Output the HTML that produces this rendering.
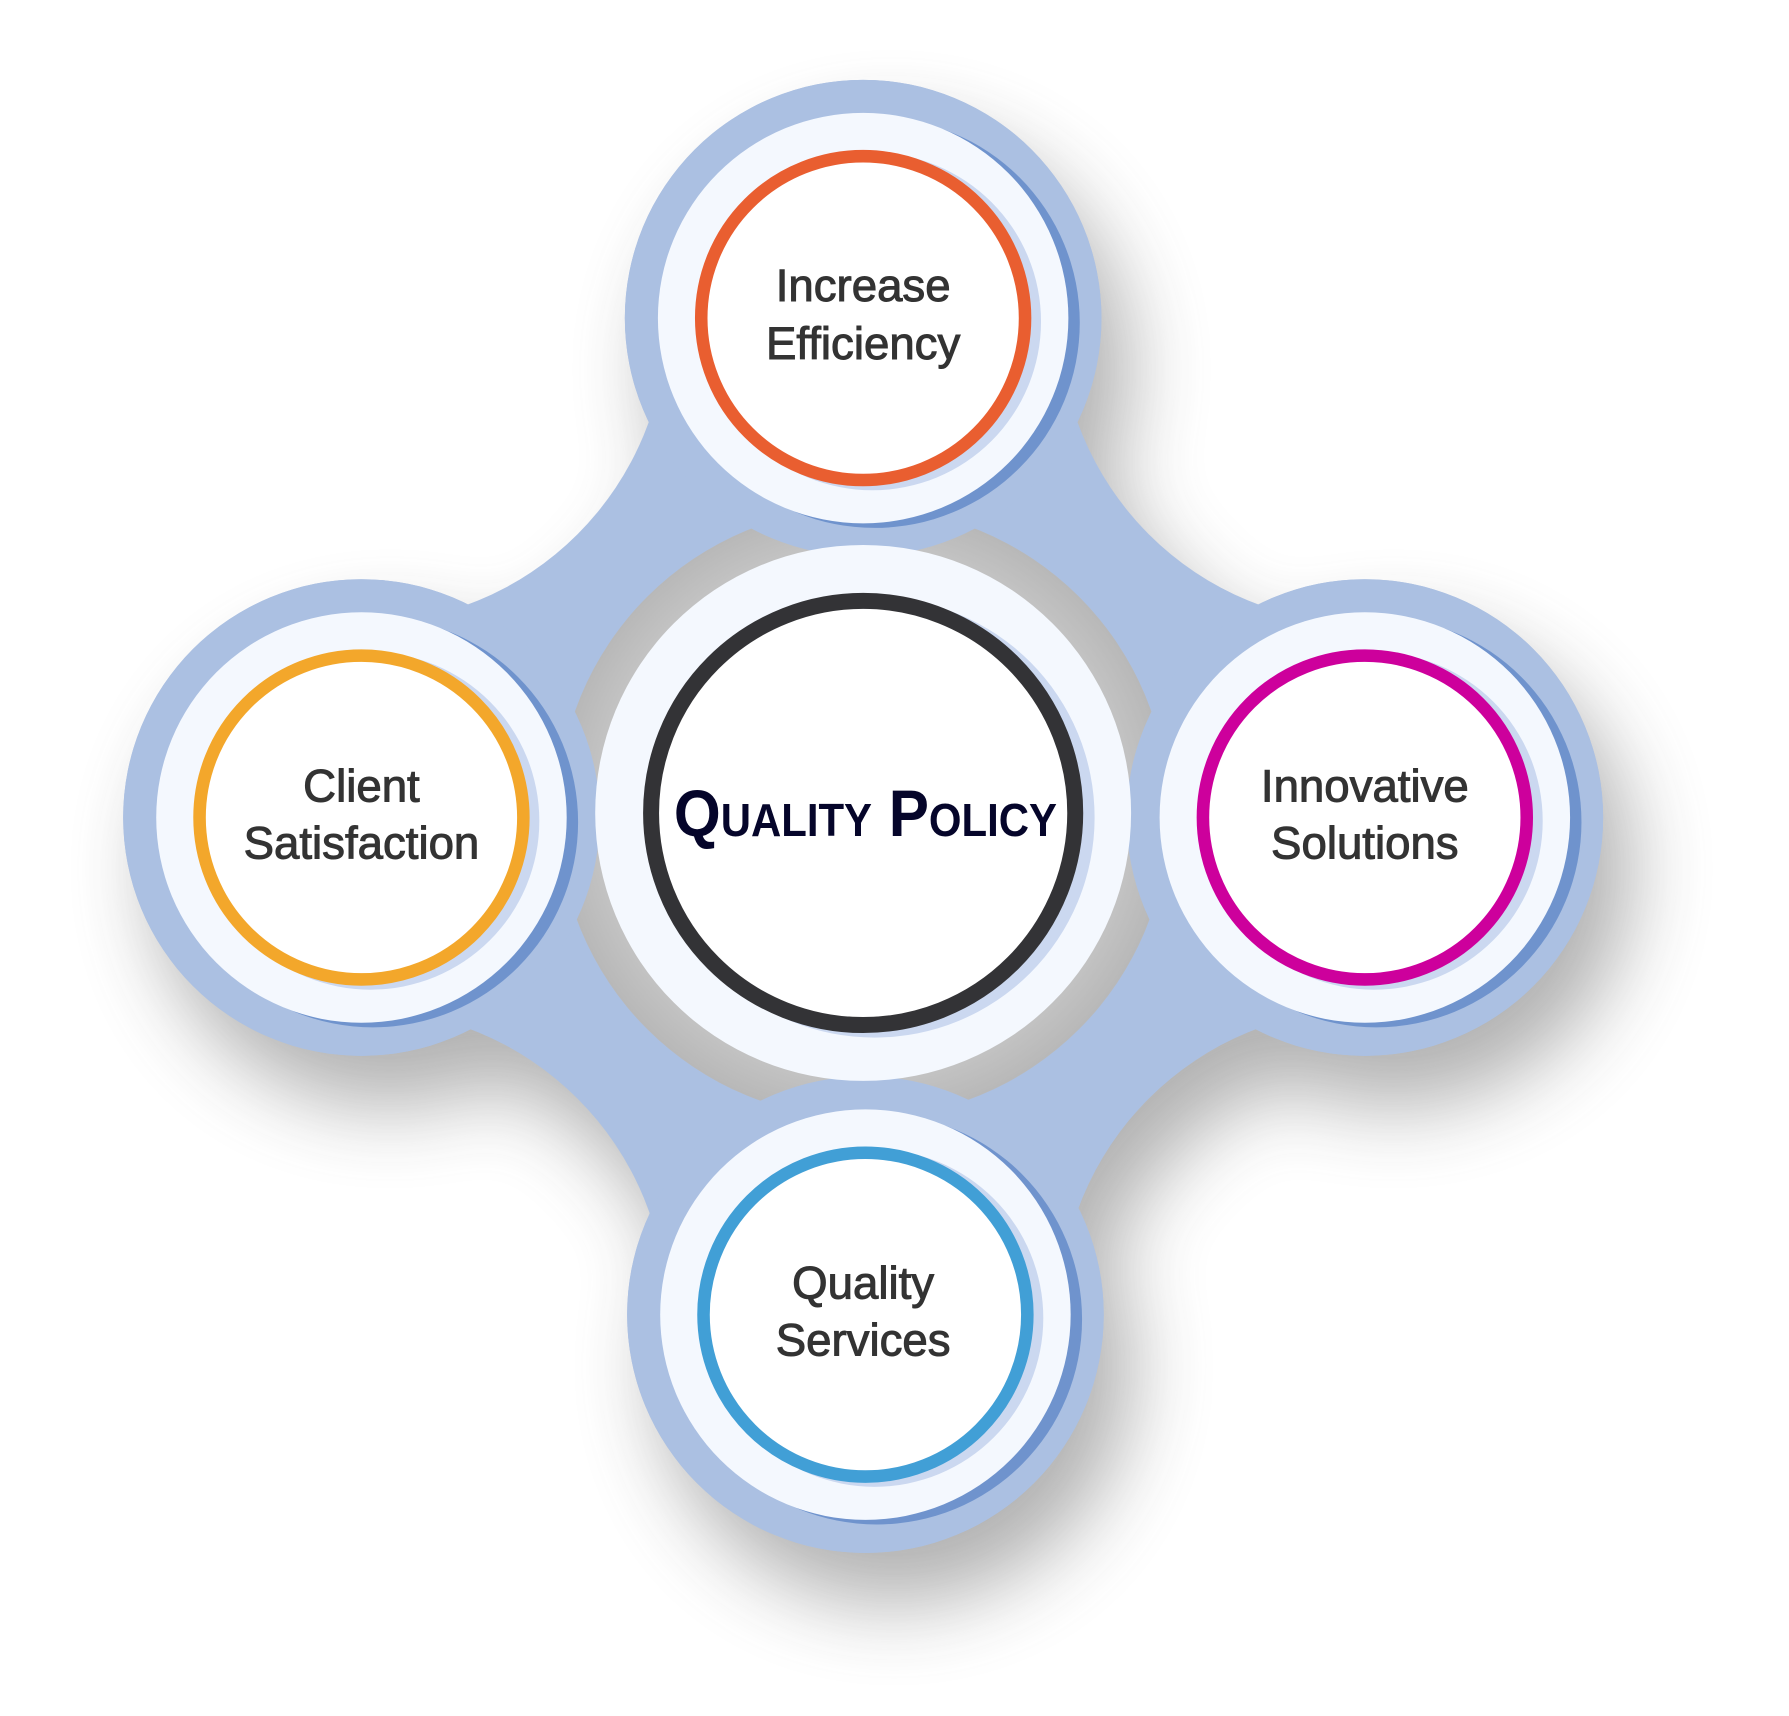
<!DOCTYPE html>
<html><head><meta charset="utf-8"><style>
html,body{margin:0;padding:0;background:#fff;}
svg{display:block;}
.t{font-family:"Liberation Sans",sans-serif;font-size:40px;fill:#333;stroke:#333;stroke-width:0.9px;}
</style></head><body>
<svg width="1789" height="1716" viewBox="0 0 1569 1505" xmlns="http://www.w3.org/2000/svg">
<defs>
<mask id="m">
<rect x="0" y="0" width="1569" height="1505" fill="#000"/>
<rect x="317" y="279" width="880" height="874" fill="#fff"/>
<circle cx="317" cy="279" r="268" fill="#000"/>
<circle cx="1197" cy="279" r="268" fill="#000"/>
<circle cx="317" cy="1153" r="268" fill="#000"/>
<circle cx="1197" cy="1153" r="268" fill="#000"/>
<circle cx="757" cy="279" r="209" fill="#fff"/>
<circle cx="317" cy="717" r="209" fill="#fff"/>
<circle cx="1197" cy="717" r="209" fill="#fff"/>
<circle cx="759" cy="1153" r="209" fill="#fff"/>
</mask>
<filter id="sh" x="-20%" y="-20%" width="140%" height="140%">
<feGaussianBlur stdDeviation="35"/>
</filter>
<radialGradient id="gg" cx="0.5" cy="0.5" r="0.5">
<stop offset="0.8" stop-color="#c9c9c9"/>
<stop offset="1" stop-color="#b8b8b8"/>
</radialGradient>
</defs>
<g filter="url(#sh)" opacity="0.45" transform="translate(25,45)">
<rect x="0" y="0" width="1569" height="1505" fill="#555" mask="url(#m)"/>
</g>
<rect x="0" y="0" width="1569" height="1505" fill="#abc0e2" mask="url(#m)"/>
<circle cx="757" cy="713" r="268" fill="url(#gg)"/>
<circle cx="757" cy="279" r="209" fill="#abc0e2"/>
<circle cx="317" cy="717" r="209" fill="#abc0e2"/>
<circle cx="1197" cy="717" r="209" fill="#abc0e2"/>
<circle cx="759" cy="1153" r="209" fill="#abc0e2"/>

<circle cx="757" cy="713" r="235" fill="#f4f8fe"/>
<circle cx="767" cy="717" r="193" fill="#cbd8f0"/>
<circle cx="757" cy="713" r="186" fill="#fff" stroke="#333336" stroke-width="14"/>
<text x="759" y="733" text-anchor="middle" font-family="Liberation Sans, sans-serif" font-weight="bold" font-size="58" fill="#05052a" style="font-variant:small-caps" textLength="336" lengthAdjust="spacingAndGlyphs">Quality Policy</text>

<g>
<circle cx="767" cy="283" r="180" fill="#6f93cd"/>
<circle cx="757" cy="279" r="180" fill="#f4f8fe"/>
<circle cx="765" cy="282" r="148" fill="#cbd8f0"/>
<circle cx="757" cy="279" r="142" fill="#fff" stroke="#e95e30" stroke-width="11"/>
<text x="757" y="264" text-anchor="middle" class="t">Increase</text>
<text x="757" y="315" text-anchor="middle" class="t">Efficiency</text>
</g>
<g>
<circle cx="327" cy="721" r="180" fill="#6f93cd"/>
<circle cx="317" cy="717" r="180" fill="#f4f8fe"/>
<circle cx="325" cy="720" r="148" fill="#cbd8f0"/>
<circle cx="317" cy="717" r="142" fill="#fff" stroke="#f3a72b" stroke-width="11"/>
<text x="317" y="703" text-anchor="middle" class="t">Client</text>
<text x="317" y="753" text-anchor="middle" class="t">Satisfaction</text>
</g>
<g>
<circle cx="1207" cy="721" r="180" fill="#6f93cd"/>
<circle cx="1197" cy="717" r="180" fill="#f4f8fe"/>
<circle cx="1205" cy="720" r="148" fill="#cbd8f0"/>
<circle cx="1197" cy="717" r="142" fill="#fff" stroke="#cd009c" stroke-width="11"/>
<text x="1197" y="703" text-anchor="middle" class="t">Innovative</text>
<text x="1197" y="753" text-anchor="middle" class="t">Solutions</text>
</g>
<g>
<circle cx="769" cy="1157" r="180" fill="#6f93cd"/>
<circle cx="759" cy="1153" r="180" fill="#f4f8fe"/>
<circle cx="767" cy="1156" r="148" fill="#cbd8f0"/>
<circle cx="759" cy="1153" r="142" fill="#fff" stroke="#419fd6" stroke-width="11"/>
<text x="757" y="1139" text-anchor="middle" class="t">Quality</text>
<text x="757" y="1189" text-anchor="middle" class="t">Services</text>
</g>
</svg>
</body></html>
